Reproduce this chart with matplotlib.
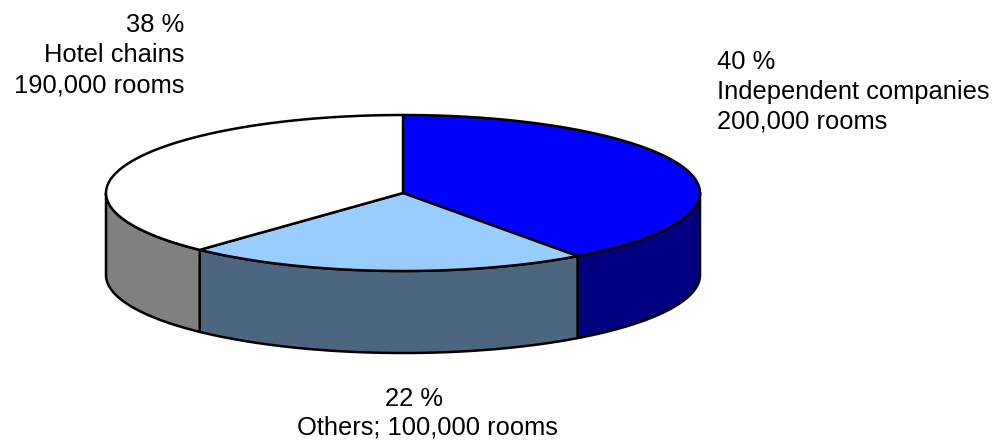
import numpy as np
import matplotlib
matplotlib.use("Agg")
import matplotlib.pyplot as plt
from matplotlib.patches import Polygon

# ---- data ----
categories = ["Independent companies", "Others", "Hotel chains"]
shares = [40, 22, 38]
rooms = ["200,000", "100,000", "190,000"]
top_colors = ["#0000FF", "#99CCFF", "#FFFFFF"]
side_colors = ["#000080", "#4D6680", "#808080"]

W, H = 1005, 441
fig = plt.figure(figsize=(W / 100, H / 100), dpi=100)
ax = fig.add_axes([0, 0, 1, 1])
ax.set_xlim(0, W)
ax.set_ylim(H, 0)
ax.axis("off")

cx, cy = 403.0, 193.0
a, b = 297.0, 78.0
depth = 82.0
lw = 1.8


def pt(t, dy=0.0):
    t = np.radians(t)
    return cx + a * np.cos(t), cy - b * np.sin(t) + dy


# slice angle ranges (math degrees, clockwise from 12 o'clock)
ranges = []
start = 90.0
for s in shares:
    end = start - s * 3.6
    ranges.append((end, start))
    start = end

# sides (front half: angles in [-180, 0])
for (t1, t2), col in zip(ranges, side_colors):
    for off in (0.0, -360.0, 360.0):
        lo = max(t1 + off, -180.0)
        hi = min(t2 + off, 0.0)
        if hi > lo:
            ts = np.linspace(lo, hi, 120)
            top = [pt(t) for t in ts]
            bot = [pt(t, depth) for t in ts[::-1]]
            ax.add_patch(Polygon(top + bot, closed=True, facecolor=col,
                                 edgecolor="black", lw=lw, joinstyle="round"))

# top wedges
for (t1, t2), col in zip(ranges, top_colors):
    ts = np.linspace(t1, t2, 200)
    verts = [(cx, cy)] + [pt(t) for t in ts]
    ax.add_patch(Polygon(verts, closed=True, facecolor=col,
                         edgecolor="black", lw=lw, joinstyle="round"))

font = dict(family=["Liberation Sans", "DejaVu Sans"], fontsize=18.4, color="black")

# labels
lab_indep = [f"{shares[0]} %", categories[0], f"{rooms[0]} rooms"]
for i, s in enumerate(lab_indep):
    ax.text(717, 69 + 30 * i, s, ha="left", va="baseline", **font)

lab_hotel = [f"{shares[2]} %", categories[2], f"{rooms[2]} rooms"]
for i, s in enumerate(lab_hotel):
    ax.text(184, 32 + 30 * i, s, ha="right", va="baseline", **font)

ax.text(414, 406, f"{shares[1]} %", ha="center", va="baseline", **font)
ax.text(427, 435, f"{categories[1]}; {rooms[1]} rooms", ha="center",
        va="baseline", **font)

fig.savefig("out.png", dpi=100, facecolor="white")
